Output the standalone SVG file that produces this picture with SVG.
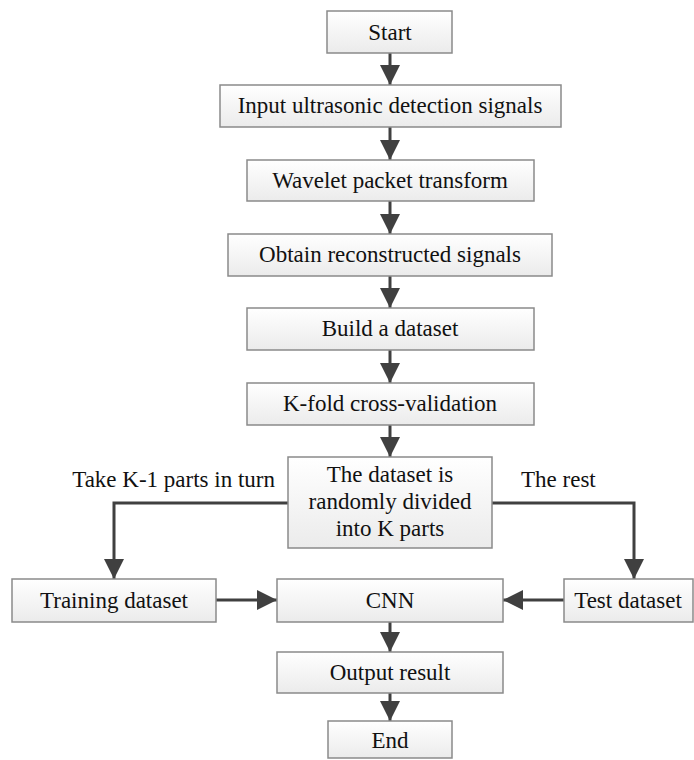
<svg xmlns="http://www.w3.org/2000/svg" width="694" height="760" viewBox="0 0 694 760">
  <defs>
    <linearGradient id="boxFill" x1="0" y1="0" x2="0" y2="1">
      <stop offset="0" stop-color="#ffffff"/>
      <stop offset="1" stop-color="#ebebeb"/>
    </linearGradient>
    <marker id="arrow" markerUnits="userSpaceOnUse" markerWidth="20" markerHeight="20" refX="20" refY="10" orient="auto" viewBox="0 0 20 20">
      <path d="M0,0 L20,10 L0,20 Z" fill="#404040"/>
    </marker>
    <style>
      .box { fill: url(#boxFill); stroke: #8a8a8a; stroke-width: 1.5; }
      .shade { fill: none; stroke: #4a4a4a; stroke-width: 1.5; }
      .lbl { font-family: "Liberation Serif", "Times New Roman", serif; font-size: 23px; fill: #111111; }
      .mid { text-anchor: middle; }
      .conn { fill: none; stroke: #404040; stroke-width: 3; marker-end: url(#arrow); }
    </style>
  </defs>
  <rect x="0" y="0" width="694" height="760" fill="#ffffff"/>

  <g id="connectors">
    <line class="conn" x1="390" y1="53" x2="390" y2="85"/>
    <line class="conn" x1="390" y1="127" x2="390" y2="160"/>
    <line class="conn" x1="390" y1="201" x2="390" y2="234"/>
    <line class="conn" x1="390" y1="276" x2="390" y2="308"/>
    <line class="conn" x1="390" y1="350" x2="390" y2="383"/>
    <line class="conn" x1="390" y1="425" x2="390" y2="457"/>
    <polyline class="conn" points="288,503 114,503 114,579"/>
    <polyline class="conn" points="492,503 634,503 634,579"/>
    <line class="conn" x1="216" y1="600" x2="277" y2="600"/>
    <line class="conn" x1="564" y1="600" x2="503" y2="600"/>
    <line class="conn" x1="390" y1="622" x2="390" y2="652"/>
    <line class="conn" x1="390" y1="693" x2="390" y2="721"/>
    <text class="lbl" x="275" y="487" text-anchor="end">Take K-1 parts in turn</text>
    <text class="lbl" x="521" y="487">The rest</text>
  </g>

  <g id="start">
    <rect class="box" x="327" y="11" width="125" height="42"/>
    <text class="lbl mid" x="390" y="40">Start</text>
  </g>
  <g id="input">
    <rect class="box" x="220" y="85" width="341" height="42"/>
    <text class="lbl mid" x="390" y="113">Input ultrasonic detection signals</text>
  </g>
  <g id="wavelet">
    <rect class="box" x="247" y="160" width="287" height="41"/>
    <text class="lbl mid" x="390" y="188">Wavelet packet transform</text>
  </g>
  <g id="obtain">
    <rect class="box" x="228" y="234" width="324" height="42"/>
    <text class="lbl mid" x="390" y="262">Obtain reconstructed signals</text>
  </g>
  <g id="build">
    <rect class="box" x="247" y="308" width="287" height="42"/>
    <text class="lbl mid" x="390" y="336">Build a dataset</text>
  </g>
  <g id="kfold">
    <rect class="box" x="247" y="383" width="287" height="42"/>
    <text class="lbl mid" x="390" y="411">K-fold cross-validation</text>
  </g>
  <g id="divide">
    <rect class="box" x="288" y="457" width="204" height="91"/>
    <text class="lbl mid" x="390" y="482">The dataset is</text>
    <text class="lbl mid" x="390" y="509">randomly divided</text>
    <text class="lbl mid" x="390" y="536">into K parts</text>
  </g>
  <g id="training">
    <rect class="box" x="12" y="579" width="204" height="43"/>
    <text class="lbl mid" x="114" y="608">Training dataset</text>
  </g>
  <g id="cnn">
    <rect class="box" x="277" y="579" width="226" height="43"/>
    <text class="lbl mid" x="390" y="608">CNN</text>
  </g>
  <g id="test">
    <rect class="box" x="564" y="579" width="129" height="43"/>
    <text class="lbl mid" x="628" y="608">Test dataset</text>
  </g>
  <g id="output">
    <rect class="box" x="277" y="652" width="226" height="41"/>
    <text class="lbl mid" x="390" y="680">Output result</text>
  </g>
  <g id="end">
    <rect class="box" x="328" y="721" width="124" height="37"/>
    <text class="lbl mid" x="390" y="748">End</text>
  </g>
</svg>
